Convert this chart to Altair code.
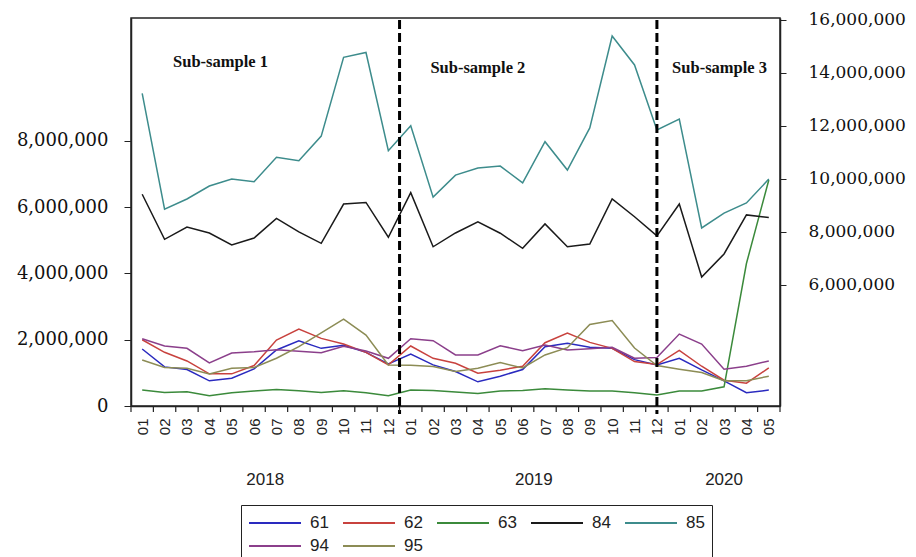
import altair as alt
import pandas as pd

# ---- data (values in millions) ----
months = ["01","02","03","04","05","06","07","08","09","10","11","12",
          "01","02","03","04","05","06","07","08","09","10","11","12",
          "01","02","03","04","05"]
years = ["2018"] * 12 + ["2019"] * 12 + ["2020"] * 5

s61 = [1.72, 1.18, 1.10, 0.76, 0.84, 1.12, 1.69, 1.97, 1.74, 1.83, 1.62, 1.27,
       1.57, 1.24, 1.04, 0.73, 0.90, 1.10, 1.79, 1.89, 1.77, 1.74, 1.40, 1.24,
       1.44, 1.09, 0.76, 0.40, 0.48]
s62 = [2.00, 1.62, 1.36, 0.97, 0.97, 1.22, 1.99, 2.32, 2.04, 1.87, 1.62, 1.24,
       1.81, 1.44, 1.29, 0.99, 1.08, 1.20, 1.91, 2.20, 1.92, 1.74, 1.34, 1.25,
       1.68, 1.20, 0.78, 0.69, 1.15]
s63 = [0.48, 0.41, 0.43, 0.31, 0.40, 0.45, 0.50, 0.46, 0.41, 0.46, 0.40, 0.31,
       0.48, 0.47, 0.42, 0.38, 0.45, 0.47, 0.52, 0.48, 0.45, 0.45, 0.40, 0.33,
       0.45, 0.45, 0.58, 4.30, 6.82]
s84 = [9.42, 7.72, 8.18, 7.96, 7.51, 7.77, 8.51, 8.00, 7.57, 9.05, 9.11, 7.80,
       9.48, 7.44, 7.96, 8.38, 7.95, 7.38, 8.30, 7.44, 7.54, 9.24, 8.57, 7.85,
       9.05, 6.30, 7.17, 8.64, 8.54]
s85 = [13.22, 8.86, 9.24, 9.73, 9.99, 9.89, 10.81, 10.68, 11.61, 14.58, 14.76, 11.06,
       12.00, 9.31, 10.14, 10.41, 10.48, 9.85, 11.40, 10.33, 11.92, 15.38, 14.29, 11.84,
       12.25, 8.15, 8.71, 9.09, 9.99]
s94 = [2.03, 1.81, 1.74, 1.30, 1.60, 1.64, 1.70, 1.65, 1.61, 1.80, 1.66, 1.44,
       2.03, 1.97, 1.54, 1.54, 1.82, 1.67, 1.84, 1.69, 1.73, 1.77, 1.44, 1.46,
       2.17, 1.87, 1.11, 1.20, 1.36]
s95 = [1.39, 1.16, 1.14, 0.97, 1.14, 1.16, 1.44, 1.79, 2.21, 2.62, 2.14, 1.24,
       1.23, 1.19, 1.04, 1.14, 1.31, 1.15, 1.54, 1.76, 2.46, 2.58, 1.75, 1.22,
       1.11, 1.01, 0.76, 0.76, 0.90]

series_names = ["61", "62", "63", "84", "85", "94", "95"]
series_colors = ["#2a2abf", "#c8423e", "#3b8a3b", "#1a1a1a", "#3d8c8c", "#8b3f8b", "#8c8c55"]

left_axis_ticks = [0, 2000000, 4000000, 6000000, 8000000]
right_axis_ticks = [6000000, 8000000, 10000000, 12000000, 14000000, 16000000]

sub_labels = ["Sub-sample 1", "Sub-sample 2", "Sub-sample 3"]
sub_x = [3.5, 15.0, 25.8]
sub_y = [10.38, 10.2, 10.2]

break_positions = [11.5, 23]

# ---- tables ----
def long(pairs):
    rows = []
    for name, vals in pairs:
        for i, v in enumerate(vals):
            rows.append({"i": i, "series": name, "value": v * 1e6})
    return pd.DataFrame(rows)

left_df = long([("61", s61), ("62", s62), ("63", s63), ("94", s94), ("95", s95)])
right_df = long([("84", s84), ("85", s85)])
sub_df = pd.DataFrame({"i": sub_x, "value": [v * 1e6 for v in sub_y], "label": sub_labels})
dash_df = pd.DataFrame({"i": break_positions})
tick_df = pd.DataFrame({"i": [k + 0.5 for k in range(-1, len(months))]})
ydf = pd.DataFrame({"i": list(range(len(months))), "year": years})
year_df = ydf.groupby("year", as_index=False)["i"].mean()

month_expr = "[" + ",".join("'%s'" % m for m in months) + "][datum.value]"

x_scale = alt.Scale(domain=[-0.5, len(months) - 0.5], nice=False, zero=False)
x_enc = alt.X(
    "i:Q", scale=x_scale,
    axis=alt.Axis(values=list(range(len(months))), labelExpr=month_expr, labelAngle=270,
                  labelFont="Liberation Sans", labelFontSize=15, labelColor="#222",
                  tickSize=0, labelPadding=12, domainColor="#222", domainWidth=1.5,
                  grid=False, title=None),
)

color_enc = alt.Color(
    "series:N",
    scale=alt.Scale(domain=series_names, range=series_colors),
    legend=alt.Legend(title=None, orient="none", direction="horizontal",
                      legendX=110, legendY=487, columns=5,
                      symbolType="M-1,0H4.2", symbolSize=400, symbolStrokeWidth=2,
                      labelFont="Liberation Sans", labelFontSize=17, labelColor="#222",
                      labelOffset=40, columnPadding=10, rowPadding=4, padding=7,
                      strokeColor="#222"),
)

left_lines = alt.Chart(left_df).mark_line(strokeWidth=1.5).encode(
    x=x_enc,
    y=alt.Y("value:Q", scale=alt.Scale(domain=[0, 11.71e6], nice=False, zero=False),
            axis=alt.Axis(values=left_axis_ticks, format=",d", labelFont="DejaVu Serif",
                          labelFontSize=18, labelColor="#111", tickSize=7, tickColor="#222",
                          labelPadding=16, domainColor="#222", domainWidth=1.5,
                          grid=False, title=None)),
    color=color_enc,
)

sub_text = alt.Chart(sub_df).mark_text(font="Liberation Serif", fontWeight="bold",
                                       fontSize=16.5, color="#111").encode(
    x=x_enc,
    y=alt.Y("value:Q", scale=alt.Scale(domain=[0, 11.71e6], nice=False, zero=False)),
    text="label:N",
)

right_lines = alt.Chart(right_df).mark_line(strokeWidth=1.5).encode(
    x=x_enc,
    y=alt.Y("value:Q", scale=alt.Scale(domain=[1.44e6, 16.06e6], nice=False, zero=False),
            axis=alt.Axis(orient="right", values=right_axis_ticks, format=",d",
                          labelFont="DejaVu Serif", labelFontSize=17, labelColor="#111",
                          tickSize=6, tickColor="#222", labelPadding=22,
                          domainColor="#222", domainWidth=1.5, grid=False, title=None)),
    color=color_enc,
)

dashed = alt.Chart(dash_df).mark_rule(color="black", strokeWidth=3, strokeDash=[9, 4]).encode(
    x=x_enc, y=alt.value(2), y2=alt.value(396)
)

ticks = alt.Chart(tick_df).mark_rule(color="#222", strokeWidth=1.2).encode(
    x=x_enc, y=alt.value(388), y2=alt.value(394)
)

year_text = alt.Chart(year_df).mark_text(font="Liberation Sans", fontSize=17, color="#222").encode(
    x=x_enc, y=alt.value(462), text="year:N"
)

left_group = alt.layer(left_lines, sub_text)

chart = alt.layer(left_group, right_lines, dashed, ticks, year_text).resolve_scale(
    y="independent"
).properties(
    width=649, height=388,
    autosize=alt.AutoSizeParams(type="none"),
    padding={"left": 123, "top": 10, "right": 128, "bottom": 160},
).configure_view(stroke="#222", strokeWidth=1.5)

chart.save("out.html", embed_options={"renderer": "svg", "actions": False})
